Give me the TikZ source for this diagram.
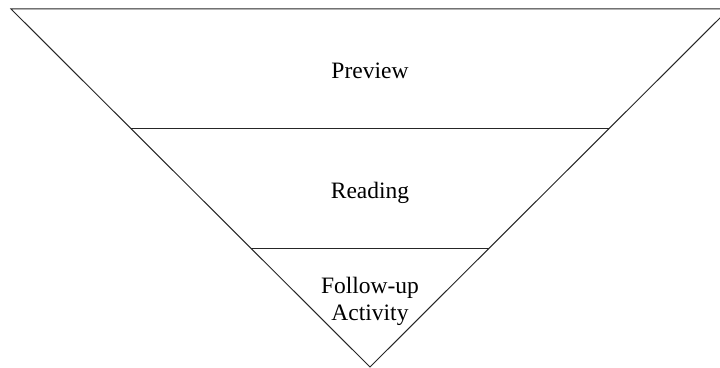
\documentclass[tikz,border=0pt]{standalone}
\usepackage{fontspec}
\setmainfont{Liberation Serif}
\usepackage{tikz}
\usetikzlibrary{positioning}
\tikzstyle{stage}=[anchor=base,align=center,inner sep=0,font=\fontsize{11.75}{13.5}\selectfont]
\tikzstyle{edge}=[line width=0.5pt,black!85]

\begin{document}
\begin{tikzpicture}[x=0.5pt,y=-0.5pt]

	\useasboundingbox (0,0) rectangle (720,368);
	\clip (0,0) rectangle (720,368);

	% corners of the funnel
	\coordinate (tl) at (11,9);
	\coordinate (tr) at (729,9);
	\coordinate (apex) at (370,367);

	\coordinate (m1l) at (131,129);
	\coordinate (m1r) at (609,129);
	\coordinate (m2l) at (251,249);
	\coordinate (m2r) at (489,249);

	\draw[edge] (tl) -- (tr) -- (apex) -- cycle;
	\draw[edge] (m1l) -- (m1r);
	\draw[edge] (m2l) -- (m2r);

	\node[stage] (preview) at (370,79) {Preview};
	\node[stage] (reading) at (370,199) {Reading};
	\node[stage] (followup) at (370,321) {Follow-up\\Activity};

\end{tikzpicture}
\end{document}
